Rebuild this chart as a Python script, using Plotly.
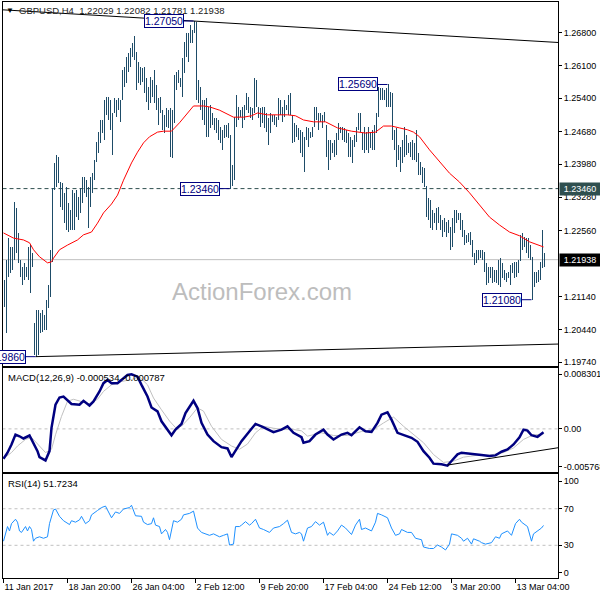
import plotly.graph_objects as go

# GBPUSD H4, bar 0 = 11 Jan 2017 12:00 (weekends skipped), last bar = 15 Mar 12:00
high = [
    1.2150, 1.2193, 1.2240, 1.2221, 1.2221, 1.2317, 1.2304, 1.2251, 1.2193, 1.2178,
    1.2187, 1.2178, 1.2221, 1.2225, 1.2208, 1.2058, 1.2086, 1.2086, 1.2080, 1.2086,
    1.2075, 1.2107, 1.2140, 1.2215, 1.2347, 1.2401, 1.2418, 1.2414, 1.2360, 1.2358,
    1.2337, 1.2349, 1.2315, 1.2300, 1.2343, 1.2337, 1.2343, 1.2328, 1.2347, 1.2371,
    1.2371, 1.2364, 1.2349, 1.2371, 1.2379, 1.2407, 1.2446, 1.2467, 1.2493, 1.2493,
    1.2536, 1.2542, 1.2542, 1.2536, 1.2508, 1.2540, 1.2536, 1.2540, 1.2536, 1.2600,
    1.2606, 1.2628, 1.2636, 1.2647, 1.2658, 1.2673, 1.2639, 1.2617, 1.2606, 1.2604,
    1.2606, 1.2583, 1.2564, 1.2585, 1.2579, 1.2600, 1.2568, 1.2540, 1.2542, 1.2514,
    1.2504, 1.2519, 1.2514, 1.2519, 1.2514, 1.2589, 1.2596, 1.2600, 1.2583, 1.2626,
    1.2660, 1.2679, 1.2679, 1.2696, 1.2686, 1.2705, 1.2703, 1.2579, 1.2564, 1.2536,
    1.2536, 1.2540, 1.2521, 1.2525, 1.2508, 1.2497, 1.2497, 1.2493, 1.2478, 1.2472,
    1.2482, 1.2482, 1.2487, 1.2461, 1.2397, 1.2499, 1.2547, 1.2521, 1.2514, 1.2521,
    1.2525, 1.2551, 1.2542, 1.2521, 1.2519, 1.2583, 1.2579, 1.2521, 1.2519, 1.2521,
    1.2521, 1.2508, 1.2497, 1.2508, 1.2504, 1.2504, 1.2499, 1.2540, 1.2536, 1.2521,
    1.2536, 1.2525, 1.2547, 1.2551, 1.2504, 1.2487, 1.2482, 1.2476, 1.2472, 1.2467,
    1.2457, 1.2478, 1.2476, 1.2467, 1.2478, 1.2521, 1.2521, 1.2508, 1.2508, 1.2504,
    1.2510, 1.2482, 1.2450, 1.2450, 1.2444, 1.2450, 1.2465, 1.2487, 1.2478, 1.2478,
    1.2476, 1.2472, 1.2465, 1.2457, 1.2450, 1.2461, 1.2478, 1.2508, 1.2508, 1.2465,
    1.2478, 1.2467, 1.2478, 1.2467, 1.2472, 1.2482, 1.2508, 1.2564, 1.2562, 1.2562,
    1.2557, 1.2562, 1.2569, 1.2553, 1.2551, 1.2472, 1.2476, 1.2439, 1.2435, 1.2450,
    1.2478, 1.2461, 1.2444, 1.2446, 1.2450, 1.2444, 1.2472, 1.2422, 1.2403, 1.2392,
    1.2390, 1.2352, 1.2326, 1.2322, 1.2300, 1.2294, 1.2304, 1.2307, 1.2289, 1.2279,
    1.2283, 1.2274, 1.2279, 1.2264, 1.2283, 1.2300, 1.2300, 1.2294, 1.2294, 1.2279,
    1.2257, 1.2247, 1.2251, 1.2253, 1.2236, 1.2208, 1.2215, 1.2215, 1.2215, 1.2215,
    1.2210, 1.2187, 1.2178, 1.2178, 1.2178, 1.2172, 1.2172, 1.2193, 1.2197, 1.2187,
    1.2172, 1.2165, 1.2167, 1.2182, 1.2187, 1.2189, 1.2189, 1.2193, 1.2247, 1.2251,
    1.2242, 1.2240, 1.2240, 1.2225, 1.2200, 1.2167, 1.2167, 1.2172, 1.2189, 1.2257,
    1.2208,
]
low = [
    1.2092, 1.2037, 1.2157, 1.2165, 1.2172, 1.2193, 1.2208, 1.2187, 1.2157, 1.2140,
    1.2150, 1.2157, 1.2150, 1.2122, 1.2178, 1.1990, 1.1986, 1.1990, 1.2037, 1.2039,
    1.2043, 1.2043, 1.2090, 1.2114, 1.2189, 1.2343, 1.2349, 1.2358, 1.2307, 1.2300,
    1.2272, 1.2257, 1.2253, 1.2257, 1.2257, 1.2257, 1.2285, 1.2279, 1.2294, 1.2315,
    1.2337, 1.2328, 1.2262, 1.2307, 1.2337, 1.2364, 1.2403, 1.2422, 1.2444, 1.2465,
    1.2450, 1.2504, 1.2493, 1.2472, 1.2418, 1.2508, 1.2499, 1.2514, 1.2489, 1.2536,
    1.2564, 1.2572, 1.2596, 1.2606, 1.2628, 1.2621, 1.2557, 1.2572, 1.2568, 1.2574,
    1.2551, 1.2532, 1.2514, 1.2529, 1.2542, 1.2529, 1.2514, 1.2482, 1.2508, 1.2472,
    1.2465, 1.2478, 1.2476, 1.2414, 1.2412, 1.2487, 1.2557, 1.2572, 1.2564, 1.2542,
    1.2594, 1.2628, 1.2617, 1.2658, 1.2658, 1.2679, 1.2536, 1.2529, 1.2514, 1.2493,
    1.2482, 1.2457, 1.2457, 1.2476, 1.2482, 1.2472, 1.2465, 1.2450, 1.2444, 1.2429,
    1.2454, 1.2457, 1.2454, 1.2346, 1.2352, 1.2364, 1.2478, 1.2493, 1.2499, 1.2476,
    1.2493, 1.2514, 1.2508, 1.2497, 1.2493, 1.2508, 1.2521, 1.2497, 1.2478, 1.2487,
    1.2476, 1.2467, 1.2439, 1.2465, 1.2489, 1.2482, 1.2478, 1.2493, 1.2504, 1.2489,
    1.2499, 1.2514, 1.2504, 1.2504, 1.2444, 1.2446, 1.2457, 1.2450, 1.2422, 1.2414,
    1.2382, 1.2450, 1.2435, 1.2454, 1.2457, 1.2478, 1.2493, 1.2472, 1.2489, 1.2476,
    1.2489, 1.2414, 1.2386, 1.2407, 1.2422, 1.2414, 1.2418, 1.2450, 1.2465, 1.2450,
    1.2446, 1.2444, 1.2414, 1.2414, 1.2401, 1.2435, 1.2446, 1.2472, 1.2467, 1.2429,
    1.2422, 1.2429, 1.2422, 1.2433, 1.2429, 1.2429, 1.2465, 1.2499, 1.2536, 1.2536,
    1.2536, 1.2521, 1.2521, 1.2521, 1.2450, 1.2429, 1.2392, 1.2407, 1.2382, 1.2401,
    1.2414, 1.2418, 1.2422, 1.2414, 1.2407, 1.2407, 1.2403, 1.2375, 1.2375, 1.2358,
    1.2349, 1.2285, 1.2279, 1.2262, 1.2257, 1.2272, 1.2257, 1.2272, 1.2257, 1.2242,
    1.2253, 1.2242, 1.2251, 1.2215, 1.2221, 1.2251, 1.2272, 1.2279, 1.2257, 1.2242,
    1.2225, 1.2230, 1.2232, 1.2225, 1.2200, 1.2182, 1.2187, 1.2193, 1.2197, 1.2193,
    1.2167, 1.2140, 1.2144, 1.2155, 1.2144, 1.2146, 1.2144, 1.2140, 1.2135, 1.2155,
    1.2150, 1.2146, 1.2155, 1.2140, 1.2165, 1.2155, 1.2157, 1.2165, 1.2190, 1.2215,
    1.2221, 1.2208, 1.2197, 1.2193, 1.2108, 1.2135, 1.2144, 1.2146, 1.2150, 1.2176,
    1.2178,
]
last_price = 1.21938

# red moving average
ma_idx = [0, 5, 10, 13, 15, 18, 22, 24, 25, 28, 32, 37, 40, 44, 47, 50, 54, 57, 60, 64,
          67, 70, 73, 77, 80, 84, 88, 92, 95, 100, 103, 108, 112, 115, 120, 124, 127, 132, 137, 142,
          146, 150, 155, 161, 167, 174, 181, 186, 190, 194, 198, 202, 205, 208, 213, 218, 223, 228, 233, 238,
          243, 248, 253, 258, 263, 270]
ma_val = [1.2251, 1.2240, 1.2236, 1.2230, 1.2215, 1.2200, 1.2187, 1.2189, 1.2197, 1.2215,
          1.2225, 1.2236, 1.2247, 1.2253, 1.2272, 1.2294, 1.2313, 1.2332, 1.2364, 1.2401,
          1.2424, 1.2444, 1.2457, 1.2467, 1.2469, 1.2469, 1.2487, 1.2508, 1.2523, 1.2523,
          1.2521, 1.2514, 1.2506, 1.2499, 1.2499, 1.2502, 1.2508, 1.2504, 1.2504, 1.2504,
          1.2502, 1.2493, 1.2489, 1.2489, 1.2476, 1.2469, 1.2465, 1.2467, 1.2480, 1.2480,
          1.2476, 1.2472, 1.2467, 1.2457, 1.2429, 1.2403, 1.2379, 1.2360, 1.2337, 1.2311,
          1.2285, 1.2268, 1.2253, 1.2245, 1.2232, 1.2221]

macd_idx = [0, 2, 4, 6, 8, 10, 13, 15, 17, 18, 21, 23, 24, 26, 28, 30, 32, 34, 38, 40,
            43, 45, 48, 50, 52, 54, 57, 59, 62, 64, 67, 69, 72, 74, 77, 79, 82, 84, 86, 89,
            91, 94, 95, 97, 99, 102, 105, 109, 112, 114, 116, 119, 123, 126, 129, 132, 135, 139, 142, 145,
            149, 150, 153, 156, 160, 162, 165, 169, 172, 174, 178, 181, 184, 187, 189, 192, 194, 197, 200, 204,
            207, 210, 213, 215, 219, 222, 224, 227, 229, 233, 236, 239, 243, 246, 249, 252, 255, 258, 260, 262,
            264, 267, 270]
macd_val = [-0.00453, -0.00362, -0.00237, -0.00086, -0.00112, -0.00146, -0.00101, -0.00211, -0.00338, -0.00429,
            -0.00479, -0.00338, 0.00015, 0.00367, 0.00477, 0.00492, 0.00442, 0.00378, 0.00367, 0.00427,
            0.00356, 0.00417, 0.00568, 0.00695, 0.00744, 0.00695, 0.00695, 0.00744, 0.00820, 0.00830,
            0.00794, 0.00669, 0.00492, 0.00326, 0.00266, 0.00115, -0.00011, -0.00097, -0.00011, 0.00075,
            0.00242, 0.00367, 0.00427, 0.00317, 0.00091, -0.00086, -0.00187, -0.00278, -0.00297, -0.00429,
            -0.00328, -0.00187, -0.00036, 0.00075, 0.00039, -0.00011, -0.00051, -0.00011, 0.00039, -0.00060,
            -0.00127, -0.00211, -0.00187, -0.00086, -0.00011, -0.00086, -0.00162, -0.00086, -0.00060, -0.00097,
            0.00024, -0.00036, -0.00045, 0.00091, 0.00216, 0.00251, 0.00140, -0.00060, -0.00097, -0.00136,
            -0.00196, -0.00338, -0.00438, -0.00528, -0.00539, -0.00559, -0.00489, -0.00388, -0.00362, -0.00373,
            -0.00388, -0.00398, -0.00413, -0.00403, -0.00347, -0.00313, -0.00237, -0.00127, -0.00011, -0.00026,
            -0.00097, -0.00121, -0.00053]
sig_idx = [0, 4, 7, 11, 14, 18, 21, 24, 26, 29, 32, 35, 39, 43, 47, 50, 54, 59, 64, 68,
           72, 75, 79, 83, 86, 89, 93, 97, 100, 104, 109, 114, 118, 122, 126, 130, 135, 140, 145, 149,
           152, 159, 165, 172, 179, 185, 190, 195, 200, 205, 210, 215, 220, 225, 230, 237, 243, 250, 255, 260,
           265, 270]
sig_val = [-0.0045, -0.0036, -0.0026, -0.0016, -0.0013, -0.0026, -0.0036, -0.0031, -0.0009, 0.0019,
           0.0042, 0.0045, 0.0042, 0.0038, 0.0045, 0.0057, 0.0067, 0.0072, 0.0075, 0.0079,
           0.0067, 0.0047, 0.0029, 0.0012, 0.0002, 0.0004, 0.0017, 0.0032, 0.0027, 0.0004,
           -0.0016, -0.0026, -0.0031, -0.0023, -0.0006, 0.0004, 0.0001, -0.0001, -0.0001, -0.0003,
           -0.0011, -0.0006, -0.0010, -0.0010, -0.0004, -0.0001, 0.0009, 0.0018, 0.0004, -0.0009,
           -0.0021, -0.0039, -0.0051, -0.0049, -0.0043, -0.0040, -0.0040, -0.0036, -0.0029, -0.0016,
           -0.0009, -0.0008]

rsi_idx = [0, 1, 2, 3, 4, 6, 7, 8, 9, 11, 12, 13, 14, 15, 16, 18, 20, 22, 23, 25,
           26, 28, 30, 33, 34, 36, 38, 39, 41, 43, 44, 47, 49, 51, 52, 53, 54, 56, 58, 60,
           63, 64, 66, 69, 70, 72, 74, 75, 76, 78, 79, 81, 82, 83, 85, 87, 89, 90, 93, 95,
           97, 99, 101, 103, 105, 108, 110, 112, 113, 115, 116, 118, 119, 121, 123, 124, 126, 128, 130, 133,
           135, 138, 140, 142, 144, 146, 148, 149, 150, 152, 154, 156, 158, 160, 162, 163, 165, 167, 169, 171,
           174, 176, 178, 179, 181, 184, 186, 187, 189, 192, 194, 196, 198, 199, 202, 204, 206, 209, 210, 213,
           215, 217, 219, 221, 223, 224, 227, 229, 230, 232, 234, 235, 238, 239, 241, 244, 246, 248, 249, 252,
           254, 256, 258, 259, 262, 264, 265, 267, 269, 270]
rsi_val = [34.5, 44.1, 50.5, 45.7, 53.7, 58.5, 55.3, 45.7, 44.1, 50.5, 45.7, 50.5, 47.3, 34.5, 37.7, 39.3, 37.7, 39.3, 53.7, 68.7,
           69.7, 61.7, 56.9, 52.7, 56.9, 55.3, 57.8, 61.7, 53.7, 56.9, 63.3, 68.1, 71.3, 72.9, 68.1, 64.9, 60.1, 66.5, 64.9, 69.7,
           71.3, 73.8, 62.3, 61.7, 55.3, 52.7, 53.7, 60.1, 52.1, 50.5, 42.5, 47.3, 44.1, 36.1, 56.9, 55.3, 58.5, 63.3, 64.9, 67.4,
           48.9, 44.1, 42.5, 40.9, 42.5, 39.3, 40.9, 42.5, 30.3, 31.3, 50.5, 50.5, 52.1, 55.9, 52.1, 53.7, 58.5, 48.9, 47.3, 44.1,
           48.9, 50.5, 53.7, 57.5, 44.1, 42.5, 44.1, 42.5, 34.5, 48.9, 50.5, 55.9, 52.1, 55.3, 40.9, 44.1, 40.9, 45.7, 52.1, 48.9,
           41.8, 52.1, 58.5, 47.3, 48.9, 45.7, 55.3, 64.9, 63.3, 60.1, 48.9, 40.9, 42.5, 47.3, 44.1, 44.1, 37.7, 36.1, 28.1, 26.5,
           26.5, 30.3, 28.1, 24.9, 31.3, 42.5, 40.9, 37.7, 34.5, 37.7, 31.3, 37.1, 34.5, 32.9, 31.3, 32.9, 39.3, 37.7, 42.5, 45.7,
           40.9, 53.7, 58.5, 55.3, 50.5, 34.5, 42.5, 45.7, 48.9, 51.7]

# trend lines (bar index, value)
upper_tl_x = [-0.5, 277.25]
upper_tl_y = [1.2729, 1.2659]
lower_tl_x = [16, 277.25]
lower_tl_y = [1.1986, 1.2013]
macd_tl_x = [222, 277.25]
macd_tl_y = [-0.0055, -0.00287]
support_level = 1.2346

# swing labels: bar of the extreme and its price
swing_bars = [95, 113, 192, 264, 16]
swing_prices = [1.2705, 1.2346, 1.2569, 1.2108, 1.1986]

price_ticks = [1.2680, 1.2610, 1.2540, 1.2468, 1.2398, 1.2328, 1.2256, 1.2114, 1.2044, 1.1974]
macd_ticks = [0.008301, 0.0, -0.005768]
macd_tick_text = ["0.008301", "0.00", "-0.005768"]
rsi_ticks = [100, 70, 30, 0]
date_ticks = [0, 32, 64, 96, 128, 160, 192, 224, 256]
date_labels = ["11 Jan 2017", "18 Jan 20:00", "26 Jan 04:00", "2 Feb 12:00", "9 Feb 20:00",
               "17 Feb 04:00", "24 Feb 12:00", "3 Mar 20:00", "13 Mar 04:00"]

FONT = "Liberation Sans, Arial, sans-serif"
# alpha just under 1 keeps plotly from widening 1px bars
BAR_COLOR = "rgba(27, 74, 102, 0.99)"
NAVY = "#000080"
SILVER = "#c0c0c0"

fig = go.Figure()

# price bars drawn as high-low ranges
fig.add_trace(go.Bar(
    x=list(range(len(high))),
    base=low,
    y=[h - l for h, l in zip(high, low)],
    width=0.5,
    marker=dict(color=BAR_COLOR, line=dict(width=0)),
    xaxis="x", yaxis="y",
))
fig.add_trace(go.Scatter(x=ma_idx, y=ma_val, mode="lines",
                         line=dict(color="#ff0000", width=1), xaxis="x", yaxis="y"))
fig.add_trace(go.Scatter(x=upper_tl_x, y=upper_tl_y, mode="lines",
                         line=dict(color="black", width=1), xaxis="x", yaxis="y"))
fig.add_trace(go.Scatter(x=lower_tl_x, y=lower_tl_y, mode="lines",
                         line=dict(color="black", width=1), xaxis="x", yaxis="y"))

# MACD
fig.add_trace(go.Scatter(x=sig_idx, y=sig_val, mode="lines",
                         line=dict(color=SILVER, width=1), xaxis="x2", yaxis="y2"))
fig.add_trace(go.Scatter(x=macd_idx, y=macd_val, mode="lines",
                         line=dict(color=NAVY, width=2.5), xaxis="x2", yaxis="y2"))
fig.add_trace(go.Scatter(x=macd_tl_x, y=macd_tl_y, mode="lines",
                         line=dict(color="black", width=1), xaxis="x2", yaxis="y2"))

# RSI
fig.add_trace(go.Scatter(x=rsi_idx, y=rsi_val, mode="lines",
                         line=dict(color="#1e90ff", width=1), xaxis="x3", yaxis="y3"))

x_dom = [2.5 / 600, 558 / 600]
x_range = [-0.5, 277.25]
axis_common = dict(showgrid=False, zeroline=False, showline=True, mirror=True,
                   linecolor="black", linewidth=1, automargin=False)
ytick_common = dict(side="right", ticks="outside", ticklen=3, tickcolor="black",
                    tickfont=dict(family=FONT, size=9, color="black"))

shapes = [
    dict(type="line", xref="x domain", x0=0, x1=1, yref="y", y0=support_level, y1=support_level,
         line=dict(color="#2f4f4f", width=1, dash="4px,3px"), layer="below"),
    dict(type="line", xref="x domain", x0=0, x1=1, yref="y", y0=last_price, y1=last_price,
         line=dict(color=SILVER, width=1), layer="below"),
    dict(type="line", xref="x2 domain", x0=0, x1=1, yref="y2", y0=0, y1=0,
         line=dict(color=SILVER, width=1, dash="3px,3px"), layer="below"),
    dict(type="line", xref="x3 domain", x0=0, x1=1, yref="y3", y0=70, y1=70,
         line=dict(color=SILVER, width=1, dash="3px,3px"), layer="below"),
    dict(type="line", xref="x3 domain", x0=0, x1=1, yref="y3", y0=30, y1=30,
         line=dict(color=SILVER, width=1, dash="3px,3px"), layer="below"),
]

annotations = [
    dict(text="▼", xref="paper", yref="paper", x=4 / 600, y=1 - 10 / 600, xanchor="left", yanchor="middle",
         showarrow=False, font=dict(family=FONT, size=8, color="black")),
    dict(text="GBPUSD,H4  1.22029 1.22082 1.21781 1.21938", xref="paper", yref="paper",
         x=17 / 600, y=1 - 10 / 600, xanchor="left", yanchor="middle", showarrow=False,
         font=dict(family=FONT, size=9.5, color="#222222")),
    dict(text="ActionForex.com", xref="paper", yref="paper", x=262 / 600, y=1 - 291 / 600,
         xanchor="center", yanchor="middle", showarrow=False,
         font=dict(family=FONT, size=24, color="#bdbdbd")),
    dict(text="MACD(12,26,9) -0.000534 -0.000787", xref="paper", yref="paper",
         x=6 / 600, y=1 - 377 / 600, xanchor="left", yanchor="middle", showarrow=False,
         font=dict(family=FONT, size=9.5, color="black")),
    dict(text="RSI(14) 51.7234", xref="paper", yref="paper",
         x=6 / 600, y=1 - 483.5 / 600, xanchor="left", yanchor="middle", showarrow=False,
         font=dict(family=FONT, size=9.5, color="black")),
    dict(text=f"{support_level:.5f}", xref="paper", yref="y", x=559 / 600, y=support_level,
         xanchor="left", yanchor="middle", showarrow=False, bgcolor="#2f4f4f", borderpad=1,
         width=38, align="center", font=dict(family=FONT, size=9, color="white")),
    dict(text=f"{last_price:.5f}", xref="paper", yref="y", x=559 / 600, y=last_price,
         xanchor="left", yanchor="middle", showarrow=False, bgcolor="black", borderpad=1,
         width=38, align="center", font=dict(family=FONT, size=9, color="white")),
]

# swing high/low boxes with short connector to the bar
for b, p in zip(swing_bars, swing_prices):
    box_right = b - 5
    annotations.append(dict(
        text=f"{p:.5f}", xref="x", yref="y", x=box_right, y=p, xanchor="right", yanchor="middle",
        showarrow=False, bgcolor="white", bordercolor=NAVY, borderwidth=1, borderpad=0,
        font=dict(family=FONT, size=10.5, color=NAVY)))
    shapes.append(dict(type="line", xref="x", yref="y", x0=box_right, x1=b, y0=p, y1=p,
                       line=dict(color=NAVY, width=1)))

fig.update_layout(
    width=600, height=600,
    margin=dict(l=0, r=0, t=0, b=0, autoexpand=False),
    paper_bgcolor="white", plot_bgcolor="white",
    showlegend=False, hovermode=False,
    bargap=0,
    xaxis=dict(domain=x_dom, range=x_range, anchor="y", showticklabels=False, ticks="", **axis_common),
    xaxis2=dict(domain=x_dom, range=x_range, anchor="y2", matches="x", showticklabels=False,
                ticks="", **axis_common),
    xaxis3=dict(domain=x_dom, range=x_range, anchor="y3", matches="x",
                tickvals=date_ticks, ticktext=date_labels, ticks="outside", ticklen=4,
                tickcolor="black", ticklabelposition="outside right", tickangle=0,
                tickfont=dict(family=FONT, size=9, color="black"), **axis_common),
    yaxis=dict(domain=[1 - 366 / 600, 1 - 2 / 600], range=[1.19660, 1.27457], anchor="x",
               tickvals=price_ticks, ticktext=[f"{v:.5f}" for v in price_ticks],
               **ytick_common, **axis_common),
    yaxis2=dict(domain=[1 - 472.3 / 600, 1 - 367.7 / 600], range=[-0.0066, 0.0093], anchor="x2",
                tickvals=macd_ticks, ticktext=macd_tick_text, **ytick_common, **axis_common),
    yaxis3=dict(domain=[1 - 578.3 / 600, 1 - 474 / 600], range=[-6.1, 108], anchor="x3",
                tickvals=rsi_ticks, ticktext=[str(v) for v in rsi_ticks], **ytick_common, **axis_common),
    shapes=shapes,
    annotations=annotations,
)

# the page body has a default 8px margin; remove it so the figure sits at the window corner
fig.write_html("out.html", config={"displayModeBar": False},
               post_script="document.body.style.margin='0';")
